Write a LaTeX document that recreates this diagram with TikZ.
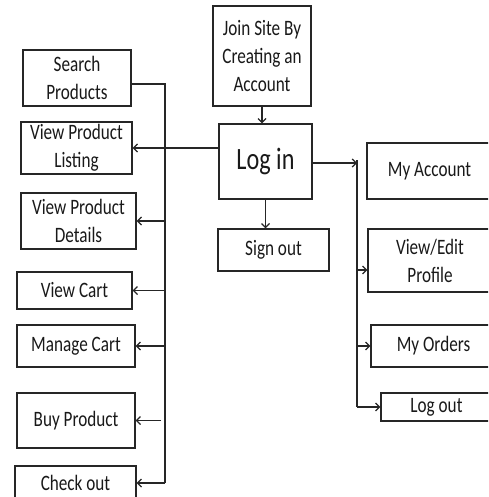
\documentclass[tikz,border=0pt]{standalone}
\usepackage{fontspec}
\setmainfont{Carlito}[FakeStretch=0.78]
\usetikzlibrary{arrows.meta,calc}
\tikzset{
  box/.style={draw=black!85, line width=1.3pt, inner sep=0pt, align=center,
    font=\fontsize{22}{28}\selectfont, text=black!90},
  conn/.style={draw=black!85, line width=1.2pt},
  arr/.style={conn, -{Straight Barb[length=4pt,width=8pt,line width=1.2pt]}}
}
\begin{document}
\begin{tikzpicture}[x=1pt,y=-1pt]
\useasboundingbox (0,0) rectangle (488,497);
\clip (0,0) rectangle (488,497);
% centre column
\node[box, minimum width=98pt, minimum height=100pt] (join) at (262,56) {Join Site By\\Creating an\\Account};
\node[box, minimum width=93pt, minimum height=75pt, font=\fontsize{31}{36}\selectfont] (login) at (265.5,161.5) {Log in};
\node[box, minimum width=111pt, minimum height=42pt] (signout) at (273.5,250) {Sign out};
% left column
\node[box, minimum width=108pt, minimum height=56pt] (search) at (77,78) {Search\\Products};
\node[box, minimum width=111pt, minimum height=52pt] (listing) at (76.5,148) {View Product\\Listing};
\node[box, minimum width=115pt, minimum height=56pt] (details) at (78.5,221) {View Product\\Details};
\node[box, minimum width=115pt, minimum height=37pt] (viewcart) at (74.5,290.5) {View Cart};
\node[box, minimum width=118pt, minimum height=42pt] (manage) at (76,346) {Manage Cart};
\node[box, minimum width=118pt, minimum height=55pt] (buy) at (76,420.5) {Buy Product};
\node[box, minimum width=121pt, minimum height=34pt] (checkout) at (75.5,483) {Check out};
% right column
\node[box, minimum width=125pt, minimum height=56pt] (myaccount) at (429.5,171) {My Account};
\node[box, minimum width=124pt, minimum height=63pt] (profile) at (430,260.5) {View/Edit\\Profile};
\node[box, minimum width=125pt, minimum height=42pt] (orders) at (433.5,346) {My Orders};
\node[box, minimum width=111pt, minimum height=28pt] (logout) at (436.5,407) {Log out};
% junction coordinates
\coordinate (ltop) at (165,84);
\coordinate (lbot) at (165,483);
\coordinate (buystart) at (161,420.5);
\coordinate (rtop) at (357,163);
\coordinate (rbot) at (357,407);
\coordinate (pa) at (357,270);
% centre connectors
\draw[arr] (join.south) -- (join.south |- login.north);
\draw[arr] (login.south) -- (login.south |- signout.north);
\draw[arr] (login.west |- listing.east) -- (listing.east);
% left bus
\draw[conn] (search.east |- ltop) -- (ltop) -- (lbot);
\draw[arr] (ltop |- details.east) -- (details.east);
\draw[arr] (ltop |- viewcart.east) -- (viewcart.east);
\draw[arr] (ltop |- manage.east) -- (manage.east);
\draw[arr] (buystart) -- (buy.east);
\draw[arr] (lbot) -- (checkout.east);
% right bus
\draw[arr] (login.east |- rtop) -- (rtop);
\draw[conn] ($(rtop)+(0,-3)$) -- (rbot);
\draw[arr] (pa) -- (pa -| profile.west);
\draw[arr] (rtop |- orders.west) -- (orders.west);
\draw[arr] (rbot) -- (logout.west);
\end{tikzpicture}
\end{document}
